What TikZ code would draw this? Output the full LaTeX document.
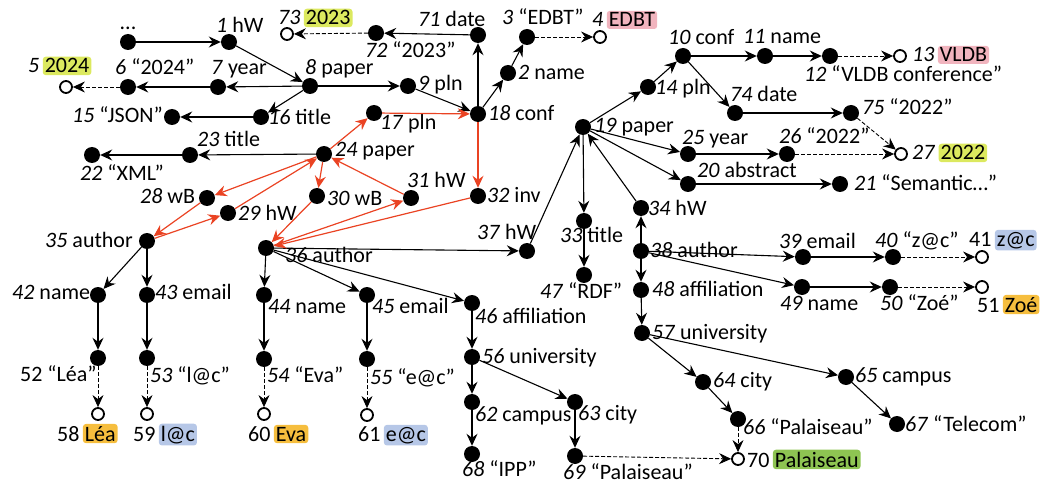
\documentclass[tikz,border=0pt]{standalone}
\usepackage{fontspec}
\setmainfont{Carlito}
\usetikzlibrary{arrows.meta}
\definecolor{redc}{RGB}{234,67,35}
\definecolor{hlyel}{RGB}{220,233,95}
\definecolor{hlpink}{RGB}{241,180,190}
\definecolor{hlblue}{RGB}{182,199,231}
\definecolor{hlorange}{RGB}{246,190,62}
\definecolor{hlgreen}{RGB}{142,196,82}
\begin{document}
\begin{tikzpicture}[x=1pt,y=-1pt,font=\fontsize{22}{24}\selectfont,
 dot/.style={circle,fill=black,inner sep=0pt,minimum size=16pt},
 odot/.style={circle,draw=black,fill=white,line width=1.8pt,inner sep=0pt,minimum size=12pt},
 lbl/.style={inner sep=0pt,anchor=base west},
 hl/.style={fill=#1,rounded corners=3pt,inner xsep=2pt,inner ysep=2pt,anchor=base west,xshift=3pt},
 e/.style={-{Stealth[length=12pt,width=11pt,inset=4pt]},line width=1.1pt},
 de/.style={e,dash pattern=on 4pt off 2pt,line width=0.9pt},
 re/.style={e,draw=redc,line width=1.2pt}]
\useasboundingbox (0,0) rectangle (1042,484);
% nodes
\node[dot] (ndots) at (128,42) {};
\node[dot] (n1) at (229,42) {};
\node[dot] (n7) at (218,87) {};
\node[dot] (n6) at (128,87) {};
\node[odot] (n5) at (66,87) {};
\node[dot] (n8) at (310,86) {};
\node[dot] (n9) at (408,86) {};
\node[dot] (n16) at (261,117) {};
\node[dot] (n15) at (172,117) {};
\node[dot] (n17) at (374,113) {};
\node[dot] (n18) at (478,114) {};
\node[dot] (n71) at (478,35) {};
\node[dot] (n72) at (376,33) {};
\node[odot] (n73) at (287,34) {};
\node[dot] (n2) at (508,73) {};
\node[dot] (n3) at (527,37) {};
\node[odot] (n4) at (600,37) {};
\node[dot] (n24) at (324,154) {};
\node[dot] (n23) at (190,155) {};
\node[dot] (n22) at (92,155) {};
\node[dot] (n28) at (207,198) {};
\node[dot] (n29) at (228,213) {};
\node[dot] (n35) at (147,241) {};
\node[dot] (n42) at (98,295) {};
\node[dot] (n43) at (147,295) {};
\node[dot] (n30) at (317,196) {};
\node[dot] (n31) at (411,198) {};
\node[dot] (n32) at (478,196) {};
\node[dot] (n36) at (266,248) {};
\node[dot] (n37) at (527,251) {};
\node[dot] (n44) at (264,295) {};
\node[dot] (n45) at (367,295) {};
\node[dot] (n46) at (472,303) {};
\node[dot] (n19) at (583,127) {};
\node[dot] (n14) at (648,87) {};
\node[dot] (n10) at (683,56) {};
\node[dot] (n11) at (765,56) {};
\node[dot] (n12) at (830,56) {};
\node[odot] (n13) at (900,56) {};
\node[dot] (n74) at (735,113) {};
\node[dot] (n75) at (851,113) {};
\node[dot] (n25) at (688,154) {};
\node[dot] (n26) at (787,154) {};
\node[odot] (n27) at (901,154) {};
\node[dot] (n20) at (688,184) {};
\node[dot] (n21) at (840,184) {};
\node[dot] (n33) at (584,221) {};
\node[dot] (n47) at (584,275) {};
\node[dot] (n34) at (641,208) {};
\node[dot] (n38) at (641,251) {};
\node[dot] (n48) at (641,290) {};
\node[dot] (n39) at (803,257) {};
\node[dot] (n40) at (893,257) {};
\node[odot] (n41) at (982,257) {};
\node[dot] (n49) at (802,287) {};
\node[dot] (n50) at (890,287) {};
\node[odot] (n51) at (982,287) {};
\node[dot] (n57) at (642,333) {};
\node[dot] (n64) at (703,382) {};
\node[dot] (n66) at (738,419) {};
\node[odot] (n70) at (738,459) {};
\node[dot] (n65) at (846,377) {};
\node[dot] (n67) at (897,424) {};
\node[dot] (n56) at (472,357) {};
\node[dot] (n62) at (472,402) {};
\node[dot] (n68) at (472,454) {};
\node[dot] (n63) at (575,402) {};
\node[dot] (n69) at (575,456) {};
\node[dot] (n52) at (98,358) {};
\node[odot] (n58) at (98,414) {};
\node[dot] (n53) at (147,358) {};
\node[odot] (n59) at (147,414) {};
\node[dot] (n54) at (264,359) {};
\node[odot] (n60) at (264,414) {};
\node[dot] (n55) at (367,359) {};
\node[odot] (n61) at (367,415) {};
% labels
\node[inner sep=0pt,anchor=base] (ldots) at (128,30) {...};
\node[lbl] (l1) at (216,33) {\textit{1} hW};
\node[lbl] (l5) at (28,73) {\textit{5}};
\node[hl=hlyel] (h5) at (l5.base east) {2024};
\node[lbl] (l6) at (115,75) {\textit{6} “2024”};
\node[lbl] (l7) at (211,75) {\textit{7} year};
\node[lbl] (l15) at (72,123) {\textit{15} “JSON”};
\node[lbl] (l16) at (268,125) {\textit{16} title};
\node[lbl] (l8) at (305,75) {\textit{8} paper};
\node[lbl] (l9) at (418,91) {\textit{9} pln};
\node[lbl] (l17) at (380,130) {\textit{17} pln};
\node[lbl] (l18) at (488,121) {\textit{18} conf};
\node[lbl] (l71) at (418,27) {\textit{71} date};
\node[lbl] (l72) at (365,58) {\textit{72} “2023”};
\node[lbl] (l73) at (278,25) {\textit{73}};
\node[hl=hlyel] (h73) at (l73.base east) {2023};
\node[lbl] (l3) at (502,25) {\textit{3} “EDBT”};
\node[lbl] (l4) at (592,27) {\textit{4}};
\node[hl=hlpink] (h4) at (l4.base east) {EDBT};
\node[lbl] (l2) at (518,80) {\textit{2} name};
\node[lbl] (l10) at (668,45) {\textit{10} conf};
\node[lbl] (l11) at (743,44) {\textit{11} name};
\node[lbl] (l12) at (804,82) {\textit{12} “VLDB conference”};
\node[lbl] (l13) at (912,62) {\textit{13}};
\node[hl=hlpink] (h13) at (l13.base east) {VLDB};
\node[lbl] (l14) at (655,95) {\textit{14} pln};
\node[lbl] (l74) at (730,102) {\textit{74} date};
\node[lbl] (l75) at (862,115) {\textit{75} “2022”};
\node[lbl] (l19) at (594,133) {\textit{19} paper};
\node[lbl] (l25) at (682,145) {\textit{25} year};
\node[lbl] (l26) at (779,144) {\textit{26} “2022”};
\node[lbl] (l27) at (912,160) {\textit{27}};
\node[hl=hlyel] (h27) at (l27.base east) {2022};
\node[lbl] (l20) at (697,178) {\textit{20} abstract};
\node[lbl] (l21) at (854,190) {\textit{21} “Semantic…”};
\node[lbl] (l23) at (197,147) {\textit{23} title};
\node[lbl] (l22) at (80,181) {\textit{22} “XML”};
\node[lbl] (l24) at (335,157) {\textit{24} paper};
\node[lbl] (l28) at (140,204) {\textit{28} wB};
\node[lbl] (l29) at (238,220) {\textit{29} hW};
\node[lbl] (l35) at (45,247) {\textit{35} author};
\node[lbl] (l30) at (327,205) {\textit{30} wB};
\node[lbl] (l31) at (407,188) {\textit{31} hW};
\node[lbl] (l32) at (487,203) {\textit{32} inv};
\node[lbl] (l36) at (285,262) {\textit{36} author};
\node[lbl] (l37) at (477,240) {\textit{37} hW};
\node[lbl] (l33) at (560,242) {\textit{33} title};
\node[lbl] (l47) at (540,298) {\textit{47} “RDF”};
\node[lbl] (l34) at (648,215) {\textit{34} hW};
\node[lbl] (l38) at (650,257) {\textit{38} author};
\node[lbl] (l48) at (652,296) {\textit{48} affiliation};
\node[lbl] (l39) at (779,248) {\textit{39} email};
\node[lbl] (l40) at (875,247) {\textit{40} “z@c”};
\node[lbl] (l41) at (969,246) {41};
\node[hl=hlblue] (h41) at (l41.base east) {z@c};
\node[lbl] (l49) at (780,310) {\textit{49} name};
\node[lbl] (l50) at (880,310) {\textit{50} “Zoé”};
\node[lbl] (l51) at (977,312) {51};
\node[hl=hlorange] (h51) at (l51.base east) {Zoé};
\node[lbl] (l42) at (12,299) {\textit{42} name};
\node[lbl] (l43) at (155,299) {\textit{43} email};
\node[lbl] (l44) at (268,313) {\textit{44} name};
\node[lbl] (l45) at (372,313) {\textit{45} email};
\node[lbl] (l46) at (475,323) {\textit{46} affiliation};
\node[lbl] (l56) at (482,363) {\textit{56} university};
\node[lbl] (l57) at (652,339) {\textit{57} university};
\node[lbl] (l62) at (475,421) {\textit{62} campus};
\node[lbl] (l63) at (578,420) {\textit{63} city};
\node[lbl] (l64) at (713,387) {\textit{64} city};
\node[lbl] (l65) at (855,382) {\textit{65} campus};
\node[lbl] (l66) at (743,434) {\textit{66} “Palaiseau”};
\node[lbl] (l67) at (905,431) {\textit{67} “Telecom”};
\node[lbl] (l68) at (462,476) {\textit{68} “IPP”};
\node[lbl] (l69) at (563,479) {\textit{69} “Palaiseau”};
\node[lbl] (l70) at (747,467) {70};
\node[hl=hlgreen] (h70) at (l70.base east) {Palaiseau};
\node[lbl] (l52) at (20,381) {52 “Léa”};
\node[lbl] (l58) at (57,441) {58};
\node[hl=hlorange] (h58) at (l58.base east) {Léa};
\node[lbl] (l53) at (150,382) {\textit{53} “l@c”};
\node[lbl] (l59) at (133,441) {59};
\node[hl=hlblue] (h59) at (l59.base east) {l@c};
\node[lbl] (l54) at (267,382) {\textit{54} “Eva”};
\node[lbl] (l60) at (248,441) {60};
\node[hl=hlorange] (h60) at (l60.base east) {Eva};
\node[lbl] (l55) at (370,384) {\textit{55} “e@c”};
\node[lbl] (l61) at (358,441) {61};
\node[hl=hlblue] (h61) at (l61.base east) {e@c};
% black edges
\draw[e] (ndots) -- (n1);
\draw[e] (n1) -- (n8);
\draw[e] (n8) -- (n7);
\draw[e] (n7) -- (n6);
\draw[de] (n6) -- (n5);
\draw[e] (n8) -- (n16);
\draw[e] (n8) -- (n9);
\draw[e] (n16) -- (n15);
\draw[e] (n9) -- (n18);
\draw[e] (n18) -- (n71);
\draw[e] (n71) -- (n72);
\draw[de] (n72) -- (n73);
\draw[e] (n18) -- (n2);
\draw[e] (n2) -- (n3);
\draw[de] (n3) -- (n4);
\draw[e] (n24) -- (n23);
\draw[e] (n23) -- (n22);
\draw[e] (n36) -- (n37);
\draw[e] (n37) -- (n19);
\draw[e] (n36) -- (n44);
\draw[e] (n36) -- (n45);
\draw[e] (n36) -- (n46);
\draw[e] (n35) -- (n42);
\draw[e] (n35) -- (n43);
\draw[e] (n42) -- (n52);
\draw[e] (n43) -- (n53);
\draw[de] (n52) -- (n58);
\draw[de] (n53) -- (n59);
\draw[e] (n44) -- (n54);
\draw[de] (n54) -- (n60);
\draw[e] (n45) -- (n55);
\draw[de] (n55) -- (n61);
\draw[e] (n46) -- (n56);
\draw[e] (n56) -- (n62);
\draw[e] (n62) -- (n68);
\draw[e] (n56) -- (n63);
\draw[e] (n63) -- (n69);
\draw[de] (n69) -- (n70);
\draw[e] (n19) -- (n14);
\draw[e] (n14) -- (n10);
\draw[e] (n10) -- (n11);
\draw[e] (n11) -- (n12);
\draw[de] (n12) -- (n13);
\draw[e] (n10) -- (n74);
\draw[e] (n74) -- (n75);
\draw[de] (n75) -- (n27);
\draw[e] (n19) -- (n25);
\draw[e] (n25) -- (n26);
\draw[de] (n26) -- (n27);
\draw[e] (n19) -- (n20);
\draw[e] (n20) -- (n21);
\draw[e] (n19) -- (n33);
\draw[e] (n33) -- (n47);
\draw[e] (n34) -- (n19);
\draw[e] (n38) -- (n34);
\draw[e] (n38) -- (n48);
\draw[e] (n48) -- (n57);
\draw[e] (n38) -- (n39);
\draw[e] (n39) -- (n40);
\draw[de] (n40) -- (n41);
\draw[e] (n38) -- (n49);
\draw[e] (n49) -- (n50);
\draw[de] (n50) -- (n51);
\draw[e] (n57) -- (n64);
\draw[e] (n64) -- (n66);
\draw[de] (n66) -- (n70);
\draw[e] (n57) -- (n65);
\draw[e] (n65) -- (n67);
% red edges
\draw[re] (n24) -- (n17);
\draw[re] (n17) -- (n18);
\draw[re] (n18) -- (n32);
\draw[re] (n32) -- (n36);
\draw[re] (n24) -- (n28);
\draw[re] (n28) -- (n35);
\draw[re] (n35) -- (n29);
\draw[re] (n29) -- (n24);
\draw[re] (n24) -- (n30);
\draw[re] (n30) -- (n36);
\draw[re] (n36) -- (n31);
\draw[re] (n31) -- (n24);
\end{tikzpicture}
\end{document}
